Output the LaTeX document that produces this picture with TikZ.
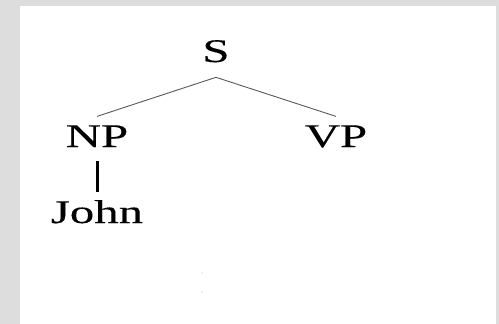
\documentclass[tikz,border=0pt]{standalone}
\usepackage{fontspec}
\setmainfont{Liberation Serif}[FakeStretch=1.48, FakeBold=0.3]
\definecolor{framegray}{RGB}{221,221,221}
\tikzset{
  cat/.style={font=\fontsize{33}{37}\selectfont, inner sep=0pt, anchor=base, outer ysep=9pt},
  branch/.style={draw=black!65, line width=.9pt},
  unary/.style={draw=black, line width=3pt}
}
\begin{document}
\begin{tikzpicture}[x=1pt,y=-1pt]
  \fill[framegray] (0,0) rectangle (499,324);
  \fill[white] (20,6) rectangle (496,324);
  % tree
  \node[cat, outer ysep=15pt] (S) at (216,62) {S};
  \node[cat] (NP) at (97,147) {NP};
  \node[cat] (VP) at (336,147) {VP};
  \node[cat, outer ysep=8pt] (John) at (97,223) {John};
  \draw[branch] (S.south) -- (NP.north);
  \draw[branch] (S.south) -- (VP.north);
  \draw[unary, shorten <=5pt] (NP.south) -- (John.north);
  % stray specks
  \fill[black!25] (202,273) circle (.7);
  \fill[black!25] (202,292) circle (.7);
\end{tikzpicture}
\end{document}
